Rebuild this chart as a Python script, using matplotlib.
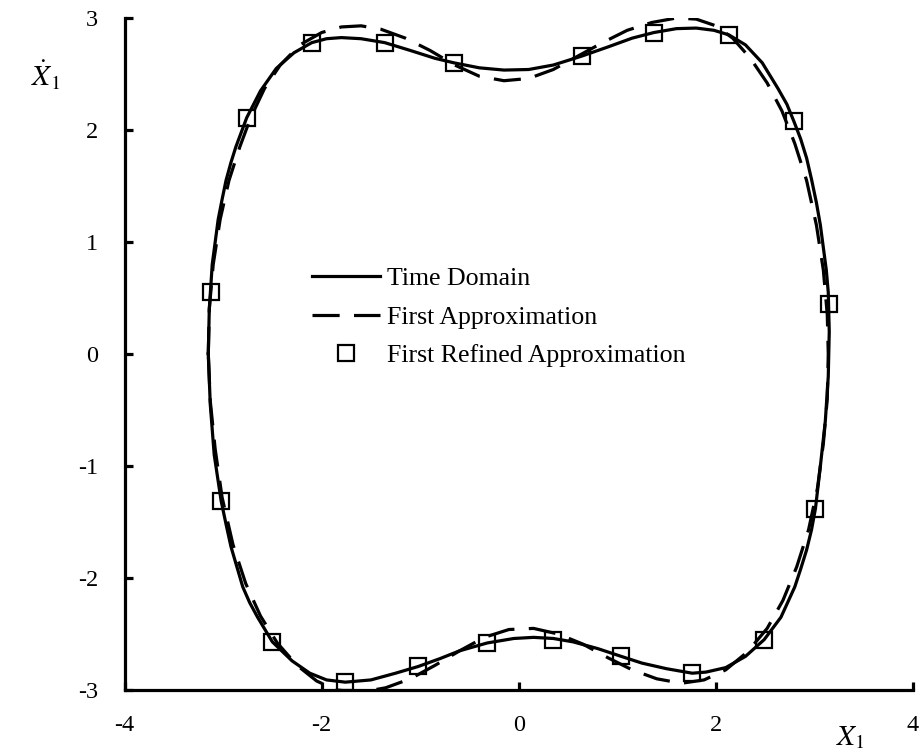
import matplotlib.pyplot as plt

plt.rcParams['font.family'] = ['Liberation Serif', 'DejaVu Serif']
plt.rcParams['mathtext.fontset'] = 'stix'

# phase portrait: time domain solution
td_x = [-3.15, -3.14, -3.11, -3.05, -3.01, -2.97, -2.92, -2.87, -2.76, -2.62, -2.46, -2.28, -2.10, -1.95,
        -1.80, -1.60, -1.36, -1.10, -0.85, -0.66, -0.40, -0.15, 0.10, 0.35, 0.64, 0.90, 1.15, 1.37, 1.60,
        1.80, 1.98, 2.13, 2.30, 2.47, 2.63, 2.72, 2.79, 2.86, 2.92, 2.97, 3.02, 3.06, 3.09, 3.12, 3.14,
        3.15, 3.14, 3.11, 3.06, 3.01, 2.97, 2.92, 2.86, 2.80, 2.66, 2.49, 2.30, 2.10, 1.90, 1.76, 1.50,
        1.25, 1.04, 0.80, 0.55, 0.35, 0.15, -0.05, -0.32, -0.60, -0.80, -1.02, -1.25, -1.50, -1.76, -1.95,
        -2.12, -2.30, -2.50, -2.65, -2.73, -2.80, -2.86, -2.92, -2.97, -3.02, -3.09, -3.13, -3.15]
td_y = [0.0, 0.4, 0.8, 1.2, 1.38, 1.55, 1.71, 1.85, 2.11, 2.35, 2.55, 2.69, 2.78, 2.815,
        2.825, 2.815, 2.78, 2.71, 2.64, 2.60, 2.555, 2.535, 2.54, 2.58, 2.66, 2.74, 2.82, 2.87, 2.905,
        2.91, 2.89, 2.85, 2.76, 2.60, 2.37, 2.23, 2.08, 1.92, 1.75, 1.56, 1.35, 1.15, 0.95, 0.75, 0.55,
        0.2, -0.2, -0.6, -1.0, -1.38, -1.57, -1.75, -1.92, -2.08, -2.35, -2.55, -2.70, -2.80, -2.84, -2.85, -2.81,
        -2.76, -2.70, -2.63, -2.57, -2.54, -2.53, -2.54, -2.58, -2.65, -2.72, -2.79, -2.85, -2.91, -2.93, -2.91,
        -2.85, -2.74, -2.57, -2.35, -2.22, -2.08, -1.90, -1.72, -1.52, -1.31, -0.9, -0.45, 0.0]

# first approximation
fa_x = [-3.15, -3.14, -3.10, -3.03, -2.94, -2.83, -2.72, -2.58, -2.42, -2.22, -2.00, -1.80, -1.60, -1.40,
        -1.15, -0.90, -0.65, -0.40, -0.15, 0.10, 0.35, 0.60, 0.85, 1.10, 1.35, 1.60, 1.80, 2.00, 2.17,
        2.35, 2.52, 2.67, 2.80, 2.92, 3.02, 3.09, 3.13, 3.14, 3.13, 3.09, 3.03, 2.94, 2.82, 2.68, 2.52,
        2.32, 2.10, 1.88, 1.65, 1.40, 1.15, 0.90, 0.65, 0.40, 0.15, -0.10, -0.35, -0.60, -0.85, -1.10,
        -1.35, -1.60, -1.85, -2.05, -2.25, -2.45, -2.62, -2.77, -2.90, -3.01, -3.08, -3.13, -3.15]
fa_y = [0.0, 0.4, 0.8, 1.2, 1.55, 1.85, 2.11, 2.37, 2.58, 2.76, 2.87, 2.92, 2.93, 2.90,
        2.82, 2.71, 2.58, 2.48, 2.44, 2.46, 2.54, 2.66, 2.78, 2.89, 2.96, 3.00, 2.99, 2.93, 2.82,
        2.64, 2.42, 2.17, 1.88, 1.55, 1.15, 0.75, 0.35, 0.0, -0.4, -0.8, -1.2, -1.57, -1.90, -2.20, -2.45,
        -2.66, -2.82, -2.91, -2.94, -2.90, -2.82, -2.71, -2.59, -2.50, -2.45, -2.46, -2.53, -2.65, -2.78, -2.90,
        -2.98, -3.02, -3.00, -2.92, -2.78, -2.58, -2.34, -2.05, -1.70, -1.28, -0.85, -0.42, 0.0]

# first refined approximation (sampled points)
fr_x = [-2.76, -2.10, -1.36, -0.66, 0.64, 1.37, 2.13, 2.79, 3.15, 3.01, 2.49, 1.76, 1.04, 0.35,
        -0.32, -1.02, -1.76, -2.50, -3.02, -3.12]
fr_y = [2.11, 2.78, 2.78, 2.60, 2.66, 2.87, 2.85, 2.08, 0.45, -1.38, -2.55, -2.85, -2.70, -2.55,
        -2.58, -2.79, -2.93, -2.57, -1.31, 0.55]

fig = plt.figure(figsize=(9.23, 7.56), dpi=100)
ax = fig.add_axes([0.1349, 0.0873, 0.8543, 0.8889])

ax.plot(td_x, td_y, color='black', lw=2.3, label='Time Domain')
ax.plot(fa_x, fa_y, color='black', lw=2.3, dashes=(8.5, 4.5), label='First Approximation')
ax.plot(fr_x, fr_y, ls='none', marker='s', ms=11.5, mfc='none', mec='black', mew=1.6,
        label='First Refined Approximation')

ax.set_xlim(-4, 4)
ax.set_ylim(-3, 3)
ax.set_xticks([-4, -2, 0, 2, 4])
ax.set_yticks([-3, -2, -1, 0, 1, 2, 3])
ax.set_xticklabels(['-4', '-2', '0', '2', '4'])
ax.set_yticklabels(['-3', '-2', '-1', '0', '1', '2', '3'])

for s in ['top', 'right']:
    ax.spines[s].set_visible(False)
for s in ['left', 'bottom']:
    ax.spines[s].set_linewidth(2.3)
ax.tick_params(direction='in', length=6, width=2.3, labelsize=17.5)
ax.tick_params(axis='x', pad=18)
ax.tick_params(axis='y', pad=19)

fig.text(0.049, 0.9, r'$\dot{X}_1$', fontsize=21, ha='center', va='center')
fig.text(0.921, 0.024, r'$X_1$', fontsize=21, ha='center', va='center')

ax.legend(loc='center left', bbox_to_anchor=(0.222, 0.555), frameon=False, fontsize=18.6,
          handlelength=2.6, handletextpad=0.3, labelspacing=0.6, borderpad=0, numpoints=1)

fig.savefig('out.png', dpi=100)
